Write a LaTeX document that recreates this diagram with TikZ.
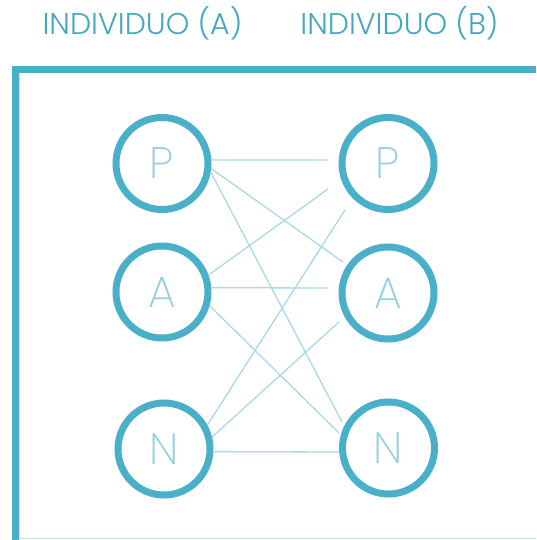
\documentclass[tikz,border=0pt]{standalone}
\usepackage{fontspec}
\setmainfont{Poppins}[UprightFont=* Light]
\newfontfamily\thinfont{Poppins}[UprightFont=* ExtraLight]
\definecolor{frm}{HTML}{4AAFC8}
\definecolor{txt}{HTML}{45A6BF}
\definecolor{lnk}{HTML}{A8D9E6}
\definecolor{ltr}{HTML}{93CFDF}
\begin{document}
\begin{tikzpicture}[x=1pt,y=-1pt,
  ring/.style={circle,draw=frm,line width=7pt,minimum size=92pt,inner sep=0pt,text=ltr,font=\thinfont\fontsize{44}{44}\selectfont},
  title/.style={text=txt,font=\fontsize{30}{30}\selectfont,inner sep=0pt,anchor=base},
  link/.style={draw=lnk,line width=1.3pt},
  frame/.style={draw=frm,line width=7pt}]
\useasboundingbox (0,0) rectangle (536,540);
% frame
\draw[frame] (15,540) -- (15,69.5) -- (536,69.5);
\draw[draw=lnk!70,line width=1pt] (19.5,73) -- (19.5,538) -- (536,538);
% titles
\node[title] (ta) at (142.5,35) {INDIVIDUO (A)};
\node[title] (tb) at (399.5,35) {INDIVIDUO (B)};
% circles
\node[ring] (pl) at (162,163.5) {P};
\node[ring] (al) at (162,292) {A};
\node[ring] (nl) at (164,449) {N};
\node[ring] (pr) at (388,163.5) {P};
\node[ring] (ar) at (388,293) {A};
\node[ring] (nr) at (388.5,448) {N};
% free ends
\coordinate (e1) at (328,160);
\coordinate (e2) at (343,262);
\coordinate (e3) at (342,422);
\coordinate (e4) at (328,189);
\coordinate (e5) at (328,288);
\coordinate (e6) at (339,433);
\coordinate (e7) at (345,210);
\coordinate (e8) at (339,322);
\coordinate (e9) at (339,452);
% links
\draw[link] (pl.4) -- (e1);
\draw[link] (pl.-6) -- (e2);
\draw[link] (pl.-10) -- (e3);
\draw[link] (al.20) -- (e4);
\draw[link] (al.5) -- (e5);
\draw[link] (al.-16) -- (e6);
\draw[link] (nl.29) -- (e7);
\draw[link] (nl.14) -- (e8);
\draw[link] (nl.-3.5) -- (e9);
\end{tikzpicture}
\end{document}
